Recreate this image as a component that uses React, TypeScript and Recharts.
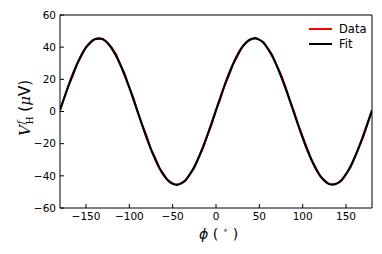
import { LineChart, Line, XAxis, YAxis } from "recharts"

// angle in degrees
const phi = [
  -180, -175, -170, -165, -160, -155, -150, -145, -140, -135, -130, -125, -120, -115, -110, -105, -100, -95,
  -90, -85, -80, -75, -70, -65, -60, -55, -50, -45, -40, -35, -30, -25, -20, -15, -10, -5,
  0, 5, 10, 15, 20, 25, 30, 35, 40, 45, 50, 55, 60, 65, 70, 75, 80, 85,
  90, 95, 100, 105, 110, 115, 120, 125, 130, 135, 140, 145, 150, 155, 160, 165, 170, 175, 180,
]

// measured signal (µV)
const measured = [
  1.2, 8.6, 16.0, 22.1, 29.8, 34.5, 39.9, 42.3, 45.1, 44.9, 45.2, 42.1, 39.8, 35.6, 29.0, 23.4, 15.1, 8.4,
  -0.6, -8.3, -15.0, -23.3, -28.7, -35.4, -39.0, -43.3, -44.5, -46.0, -44.3, -43.1, -38.8, -35.3, -28.8, -23.2, -15.2, -8.4,
  0.5, 7.4, 16.1, 22.3, 29.7, 34.4, 39.8, 43.2, 44.5, 45.9, 44.4, 43.3, 39.0, 35.4, 28.7, 23.3, 16.0, 7.5,
  0.4, -8.3, -15.2, -22.3, -29.6, -34.5, -39.9, -42.4, -45.1, -45.2, -44.5, -43.2, -39.0, -35.3, -28.8, -22.4, -16.0, -7.6, 0.3,
]

// fitted curve (µV)
const fitted = [
  0.8, 8.7, 16.4, 23.5, 29.8, 35.4, 39.8, 43.0, 44.9, 45.5, 44.7, 42.6, 39.0, 34.4, 28.6, 22.0, 14.8, 7.1,
  -0.8, -8.7, -16.4, -23.5, -29.8, -35.4, -39.8, -43.0, -44.9, -45.5, -44.7, -42.6, -39.0, -34.4, -28.6, -22.0, -14.8, -7.1,
  0.8, 8.7, 16.4, 23.5, 29.8, 35.4, 39.8, 43.0, 44.9, 45.5, 44.7, 42.6, 39.0, 34.4, 28.6, 22.0, 14.8, 7.1,
  -0.8, -8.7, -16.4, -23.5, -29.8, -35.4, -39.8, -43.0, -44.9, -45.5, -44.7, -42.6, -39.0, -34.4, -28.6, -22.0, -14.8, -7.1, 0.8,
]

const xTicks = [-150, -100, -50, 0, 50, 100, 150]
const yTicks = [-60, -40, -20, 0, 20, 40, 60]

const data = phi.map((p, i) => ({ phi: p, data: measured[i], fit: fitted[i] }))

const font = "'DejaVu Sans', sans-serif"
const serif = "'DejaVu Serif', serif"
const minus = (v: number) => String(v).replace("-", "\u2212")
const tickStyle = { fill: "#000", fontSize: 10.5, fontFamily: font }

export default function App() {
  return (
    <div style={{ position: "absolute", left: 0, top: 0, width: 382, height: 254, background: "#fff" }}>
      <LineChart width={382} height={254} data={data} margin={{ top: 14, right: 9, bottom: 16, left: 0 }}>
        <XAxis
          dataKey="phi"
          type="number"
          domain={[-180, 180]}
          ticks={xTicks}
          tickFormatter={minus}
          height={30}
          tickSize={-4}
          tickMargin={9}
          stroke="#000"
          tick={tickStyle}
          allowDataOverflow
        />
        <XAxis
          xAxisId="top"
          orientation="top"
          dataKey="phi"
          type="number"
          domain={[-180, 180]}
          ticks={xTicks}
          height={1}
          tickSize={-4}
          tick={false}
          stroke="#000"
        />
        <YAxis
          type="number"
          domain={[-60, 60]}
          ticks={yTicks}
          tickFormatter={minus}
          width={60}
          tickSize={-4}
          tickMargin={8}
          stroke="#000"
          tick={tickStyle}
        />
        <YAxis
          yAxisId="right"
          orientation="right"
          type="number"
          domain={[-60, 60]}
          ticks={yTicks}
          width={1}
          tickSize={-4}
          tick={false}
          stroke="#000"
        />
        <Line dataKey="data" stroke="#ff0000" strokeWidth={1.5} dot={false} type="linear" isAnimationActive={false} />
        <Line dataKey="fit" stroke="#000" strokeWidth={2.2} dot={false} type="monotone" isAnimationActive={false} />
      </LineChart>

      <div style={{ position: "absolute", left: 300, top: 21, fontFamily: font, fontSize: 11.5 }}>
        <div style={{ display: "flex", alignItems: "center", height: 15 }}>
          <div style={{ width: 23, height: 2, background: "#ff0000", marginLeft: 9, marginRight: 7 }} />
          <span>Data</span>
        </div>
        <div style={{ display: "flex", alignItems: "center", height: 15 }}>
          <div style={{ width: 23, height: 2, background: "#000", marginLeft: 9, marginRight: 7 }} />
          <span>Fit</span>
        </div>
      </div>

      <div style={{ position: "absolute", left: 199, top: 225, fontFamily: font, fontSize: 14, whiteSpace: "nowrap" }}>
        <i>ϕ</i> ( <sup style={{ fontSize: 9 }}>∘</sup> )
      </div>

      <div
        style={{
          position: "absolute",
          left: 25,
          top: 108,
          transform: "translate(-50%, -50%) rotate(-90deg)",
          fontFamily: font,
          fontSize: 15,
          whiteSpace: "nowrap",
        }}
      >
        <i style={{ fontFamily: serif }}>V</i>
        <span
          style={{
            display: "inline-flex",
            flexDirection: "column",
            verticalAlign: "middle",
            fontSize: 9,
            lineHeight: "9px",
            marginLeft: 1,
            fontFamily: serif,
          }}
        >
          <i>f</i>
          <span>H</span>
        </span>{" "}
        (<i style={{ fontFamily: serif }}>μ</i>V)
      </div>
    </div>
  )
}
